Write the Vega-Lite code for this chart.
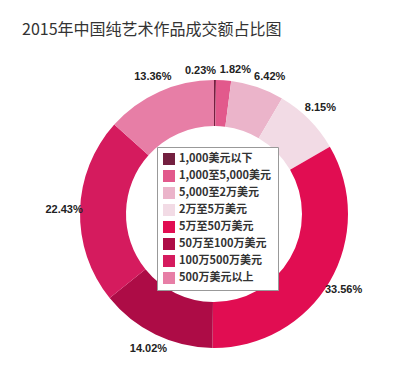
{
  "$schema": "https://vega.github.io/schema/vega-lite/v6.json",
  "width": 400,
  "height": 348,
  "autosize": {"type": "none"},
  "padding": {"left": 14, "top": 40, "right": 0, "bottom": 0},
  "background": "white",
  "title": {
    "text": "2015年中国纯艺术作品成交额占比图",
    "anchor": "start",
    "frame": "group",
    "font": "Noto Sans CJK SC",
    "fontSize": 16,
    "fontWeight": "normal",
    "color": "#333333",
    "dx": 8,
    "offset": 2
  },
  "config": {"view": {"stroke": null}},
  "data": {
    "values": [
      {"category": "1,000美元以下", "share": 0.23, "label": "0.23%", "rank": 1},
      {"category": "1,000至5,000美元", "share": 1.82, "label": "1.82%", "rank": 2},
      {"category": "5,000至2万美元", "share": 6.42, "label": "6.42%", "rank": 3},
      {"category": "2万至5万美元", "share": 8.15, "label": "8.15%", "rank": 4},
      {"category": "5万至50万美元", "share": 33.56, "label": "33.56%", "rank": 5},
      {"category": "50万至100万美元", "share": 14.02, "label": "14.02%", "rank": 6},
      {"category": "100万500万美元", "share": 22.43, "label": "22.43%", "rank": 7},
      {"category": "500万美元以上", "share": 13.36, "label": "13.36%", "rank": 8}
    ]
  },
  "encoding": {
    "theta": {"field": "share", "type": "quantitative", "stack": true},
    "order": {"field": "rank", "type": "quantitative"}
  },
  "layer": [
    {
      "mark": {"type": "arc", "innerRadius": 88, "outerRadius": 134},
      "encoding": {
        "color": {
          "field": "category",
          "type": "nominal",
          "scale": {
            "domain": ["1,000美元以下", "1,000至5,000美元", "5,000至2万美元", "2万至5万美元", "5万至50万美元", "50万至100万美元", "100万500万美元", "500万美元以上"],
            "range": ["#732040", "#e2598c", "#ebb4ca", "#f2dbe5", "#e10d52", "#ad0c46", "#d51b5e", "#e77ea6"]
          },
          "legend": {
            "orient": "none",
            "legendX": 143,
            "legendY": 107,
            "title": null,
            "symbolType": "square",
            "symbolSize": 144,
            "symbolStrokeWidth": 0,
            "labelFont": "Noto Sans CJK SC",
            "labelFontSize": 11,
            "labelFontWeight": "bold",
            "labelColor": "#333333",
            "rowPadding": 5,
            "padding": 6,
            "strokeColor": "#999999",
            "fillColor": "white",
            "labelOffset": 4,
            "labelLimit": 200
          }
        }
      }
    },
    {
      "mark": {"type": "text", "radius": 150, "font": "Liberation Sans", "fontSize": 11, "fontWeight": "bold", "color": "#222222", "baseline": "middle"},
      "encoding": {
        "text": {"condition": {"test": "datum.rank <= 3", "value": ""}, "field": "label"}
      }
    },
    {
      "mark": {"type": "text", "radius": 150, "font": "Liberation Sans", "fontSize": 11, "fontWeight": "bold", "color": "#222222", "baseline": "middle", "dx": 7, "dy": 5},
      "encoding": {
        "text": {"condition": {"test": "datum.rank != 3", "value": ""}, "field": "label"}
      }
    },
    {
      "mark": {"type": "text", "radius": 150, "font": "Liberation Sans", "fontSize": 11, "fontWeight": "bold", "color": "#222222", "baseline": "middle", "align": "right", "dx": 1, "dy": 7},
      "encoding": {
        "text": {"condition": {"test": "datum.rank != 1", "value": ""}, "field": "label"}
      }
    },
    {
      "mark": {"type": "text", "radius": 150, "font": "Liberation Sans", "fontSize": 11, "fontWeight": "bold", "color": "#222222", "baseline": "middle", "align": "left", "dx": -5, "dy": 6},
      "encoding": {
        "text": {"condition": {"test": "datum.rank != 2", "value": ""}, "field": "label"}
      }
    }
  ]
}
